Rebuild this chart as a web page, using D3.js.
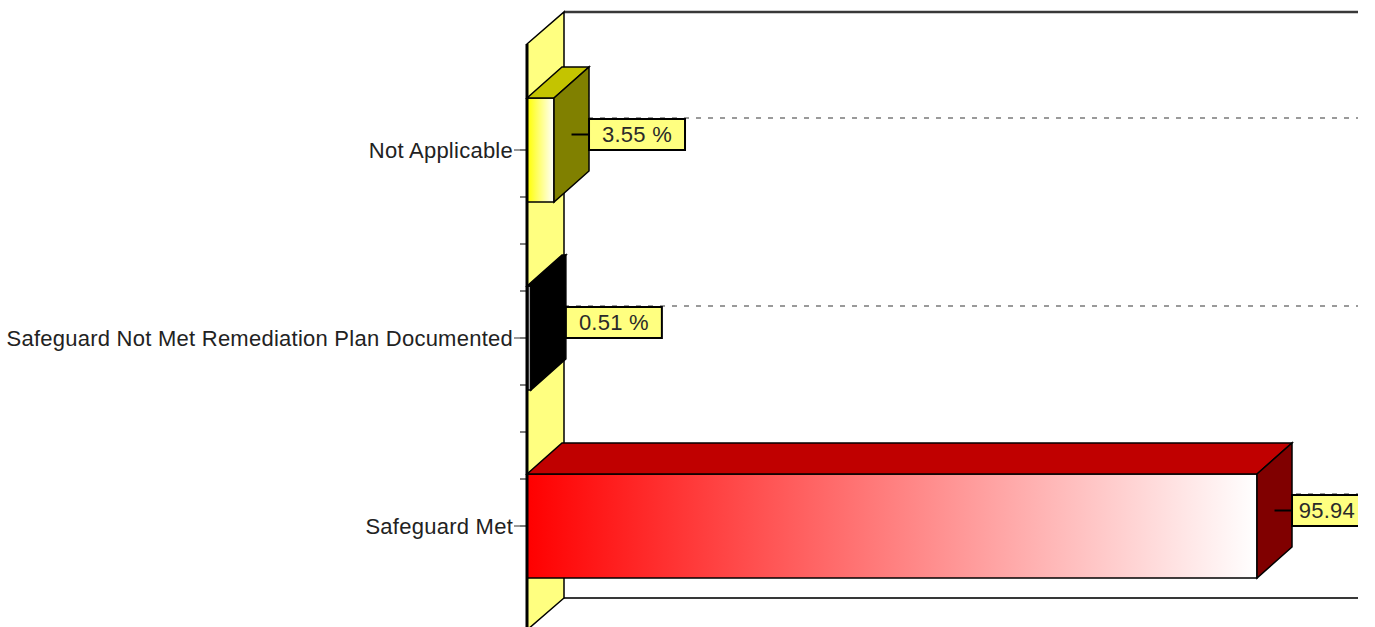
<!DOCTYPE html>
<html>
<head>
<meta charset="utf-8">
<script src="https://cdn.jsdelivr.net/npm/d3@7"></script>
<style>
  html, body { margin: 0; padding: 0; background: #fff; }
  svg { display: block; }
  text { font-family: "Liberation Sans", Arial, sans-serif; letter-spacing: 0.25px; }
</style>
</head>
<body>
<svg id="chart" width="1375" height="627"></svg>
<script>
// ---- data ----
const categories = ["Not Applicable", "Safeguard Not Met Remediation Plan Documented", "Safeguard Met"];
const values = [3.55, 0.51, 95.94];
const valueLabels = values.map(v => v.toFixed(2) + " %");

// ---- styling ----
const palette = {
  "Not Applicable": { front: "#FFFF00", top: "#C4C400", side: "#808000" },
  "Safeguard Not Met Remediation Plan Documented": { front: "#000000", top: "#000000", side: "#000000" },
  "Safeguard Met": { front: "#FF0000", top: "#C00000", side: "#800000" }
};
const wallFill = "#FFFF80";
const boxFill = "#FFFF80";

const W = 1375, H = 627;
const visibleRight = 1358;
const wallDepth = { dx: 37, dy: -32 };
const barDepth = { dx: 35, dy: -31 };
const plotTop = 44, plotBottom = 630;
const plotLeft = 527, plotRight = 1321;
const barHeight = 104;
const fontSize = 22;

const svg = d3.select("#chart");
const defs = svg.append("defs");
defs.append("clipPath").attr("id", "view")
  .append("rect").attr("x", 0).attr("y", 0).attr("width", visibleRight).attr("height", H);

const g = svg.append("g").attr("clip-path", "url(#view)");

// scales
const x = d3.scaleLinear().domain([0, 100]).range([plotLeft, plotLeft + 760.9]);
const y = d3.scaleBand().domain(categories).range([56, 620]).padding(0);
const cy = c => y(c) + y.bandwidth() / 2;

// gradients for the bar fronts
categories.forEach((c, i) => {
  const lg = defs.append("linearGradient").attr("id", "grad" + i)
    .attr("x1", 0).attr("y1", 0).attr("x2", 1).attr("y2", 0);
  lg.append("stop").attr("offset", 0).attr("stop-color", palette[c].front);
  lg.append("stop").attr("offset", 1).attr("stop-color", "#FFFFFF");
});

const poly = pts => "M" + pts.map(p => p.join(",")).join("L") + "Z";

// back wall
const bx0 = plotLeft + wallDepth.dx, by0 = plotTop + wallDepth.dy;
const bx1 = plotRight + wallDepth.dx, by1 = plotBottom + wallDepth.dy;
g.append("rect").attr("x", bx0).attr("y", by0).attr("width", bx1 - bx0).attr("height", by1 - by0)
  .attr("fill", "#fff");
g.append("line").attr("x1", bx0).attr("x2", bx1).attr("y1", by0).attr("y2", by0)
  .attr("stroke", "#383838").attr("stroke-width", 2.5);
g.append("line").attr("x1", bx0).attr("x2", bx1).attr("y1", by1).attr("y2", by1)
  .attr("stroke", "#383838").attr("stroke-width", 2);

// side wall (left)
g.append("path")
  .attr("d", poly([[plotLeft, plotTop], [bx0, by0], [bx0, by1], [plotLeft, plotBottom]]))
  .attr("fill", wallFill).attr("stroke", "#000").attr("stroke-width", 1.5);

// category grid lines on the back wall
g.selectAll("line.grid").data(categories).join("line").attr("class", "grid")
  .attr("x1", bx0).attr("x2", bx1)
  .attr("y1", c => cy(c) + wallDepth.dy).attr("y2", c => cy(c) + wallDepth.dy)
  .attr("stroke", "#9a9a9a").attr("stroke-width", 1.8).attr("stroke-dasharray", "5,7");

// axis ticks and labels
const step = y.step();
const minorTicks = d3.range(0, (categories.length - 1) * 4 + 1).map(k => cy(categories[0]) + k * step / 4);
g.selectAll("line.minor").data(minorTicks).join("line").attr("class", "minor")
  .attr("x1", plotLeft - 7).attr("x2", plotLeft).attr("y1", d => d).attr("y2", d => d)
  .attr("stroke", "#555").attr("stroke-width", 1.5);
g.selectAll("line.major").data(categories).join("line").attr("class", "major")
  .attr("x1", plotLeft - 13).attr("x2", plotLeft).attr("y1", cy).attr("y2", cy)
  .attr("stroke", "#777").attr("stroke-width", 1.5);
g.selectAll("text.cat").data(categories).join("text").attr("class", "cat")
  .attr("x", plotLeft - 14).attr("y", cy).attr("dy", "0.36em")
  .attr("text-anchor", "end").attr("font-size", fontSize).attr("fill", "#222")
  .text(d => d);

// bars
const bars = g.selectAll("g.bar").data(categories).join("g").attr("class", "bar");
bars.each(function (c, i) {
  const b = d3.select(this);
  const xa = x(0), xb = x(values[i]);
  const ya = cy(c) - barHeight / 2, yb = cy(c) + barHeight / 2;
  const { dx, dy } = barDepth;
  b.append("rect").attr("x", xa).attr("y", ya).attr("width", xb - xa).attr("height", yb - ya)
    .attr("fill", `url(#grad${i})`).attr("stroke", "#000").attr("stroke-width", 1.5);
  b.append("path").attr("d", poly([[xa, ya], [xa + dx, ya + dy], [xb + dx, ya + dy], [xb, ya]]))
    .attr("fill", palette[c].top).attr("stroke", "#000").attr("stroke-width", 1.5);
  b.append("path").attr("d", poly([[xb, ya], [xb + dx, ya + dy], [xb + dx, yb + dy], [xb, yb]]))
    .attr("fill", palette[c].side).attr("stroke", "#000").attr("stroke-width", 1.5);
});

// value labels
const boxW = 96, boxH = 31;
const labels = g.selectAll("g.vlabel").data(categories).join("g").attr("class", "vlabel");
labels.each(function (c, i) {
  const l = d3.select(this);
  const xb = x(values[i]);
  const ly = cy(c) + barDepth.dy / 2;
  l.append("line").attr("x1", xb + barDepth.dx / 2).attr("x2", xb + barDepth.dx)
    .attr("y1", ly).attr("y2", ly).attr("stroke", "#000").attr("stroke-width", 2);
  l.append("rect").attr("x", xb + barDepth.dx).attr("y", ly - boxH / 2)
    .attr("width", boxW).attr("height", boxH)
    .attr("fill", boxFill).attr("stroke", "#000").attr("stroke-width", 2);
  l.append("text").attr("x", xb + barDepth.dx + boxW / 2).attr("y", ly).attr("dy", "0.36em")
    .attr("text-anchor", "middle").attr("font-size", fontSize).attr("fill", "#2a2a2a")
    .text(valueLabels[i]);
});

// front axis line
g.append("line").attr("x1", plotLeft).attr("x2", plotLeft).attr("y1", plotTop).attr("y2", plotBottom)
  .attr("stroke", "#000").attr("stroke-width", 3);
</script>
</body>
</html>
